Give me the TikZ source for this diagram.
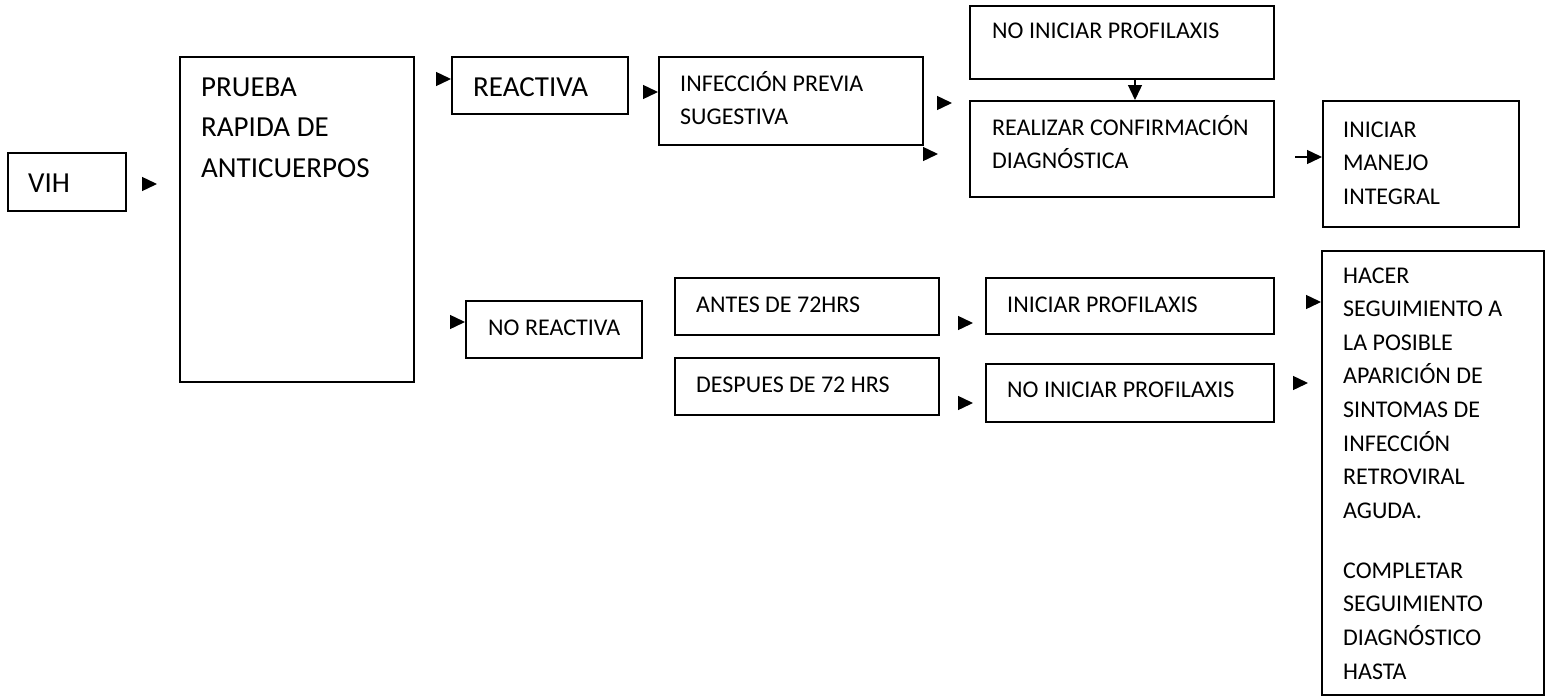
\documentclass[tikz,border=0pt]{standalone}
\usepackage{fontspec}
\setmainfont{Carlito}
\usetikzlibrary{arrows.meta,calc}
% multi-line text whose baseline is that of its first line
\newcommand\lines[1]{\begin{tabular}[t]{@{}l@{}}#1\end{tabular}}
\tikzset{
  box/.style={draw, line width=1.4pt, rectangle, inner sep=0pt, outer sep=0pt, anchor=north west},
  big/.style={font=\fontsize{29}{40.5}\selectfont, anchor=base west, inner sep=0pt},
  small/.style={font=\fontsize{24}{33.6}\selectfont, anchor=base west, inner sep=0pt},
  tipar/.style={line width=1.4pt, -{Triangle[length=15pt,width=14pt]}},
}
\begin{document}
\begin{tikzpicture}[x=1pt,y=-1pt]
\useasboundingbox[fill=white] (0,0) rectangle (1551,696);

% boxes
\node[box, minimum width=118pt, minimum height=58pt]  (vih)     at (8,153)    {};
\node[box, minimum width=234pt, minimum height=325pt] (pru)     at (180,57)   {};
\node[box, minimum width=176pt, minimum height=57pt]  (reac)    at (452,57)   {};
\node[box, minimum width=264pt, minimum height=88pt]  (inf)     at (659,57)   {};
\node[box, minimum width=304pt, minimum height=73pt]  (noini)   at (970,6)    {};
\node[box, minimum width=304pt, minimum height=96pt]  (real)    at (970,101)  {};
\node[box, minimum width=196pt, minimum height=126pt] (ini)     at (1323,101) {};
\node[box, minimum width=176pt, minimum height=57pt]  (norea)   at (466,301)  {};
\node[box, minimum width=264pt, minimum height=57pt]  (antes)   at (675,278)  {};
\node[box, minimum width=264pt, minimum height=57pt]  (desp)    at (675,358)  {};
\node[box, minimum width=288pt, minimum height=56pt]  (iniprof) at (986,278)  {};
\node[box, minimum width=288pt, minimum height=58pt]  (noprof)  at (986,364)  {};
\node[box, minimum width=222pt, minimum height=444pt] (hacer)   at (1322,251) {};

% texts
\node[big] (t-vih)  at (28,192)  {VIH};
\node[big] (t-pru)  at (201,96)  {\lines{PRUEBA\\RAPIDA DE\\ANTICUERPOS}};
\node[big] (t-reac) at (473,96)  {REACTIVA};
\node[small] (t-inf)   at (680,91)   {\lines{INFECCIÓN PREVIA\\SUGESTIVA}};
\node[small] (t-noini) at (992,38)   {NO INICIAR PROFILAXIS};
\node[small] (t-real)  at (992,135)  {\lines{REALIZAR CONFIRMACIÓN\\DIAGNÓSTICA}};
\node[small] (t-ini)   at (1343,137) {\lines{INICIAR\\MANEJO\\INTEGRAL}};
\node[small] (t-norea) at (488,335)  {NO REACTIVA};
\node[small] (t-antes) at (696,312)  {ANTES DE 72HRS};
\node[small] (t-desp)  at (696,392)  {DESPUES DE 72 HRS};
\node[small] (t-iprof) at (1007,312) {INICIAR PROFILAXIS};
\node[small] (t-nprof) at (1007,397) {NO INICIAR PROFILAXIS};
\node[small] (t-hacer) at (1343,283) {\lines{HACER\\SEGUIMIENTO A\\LA POSIBLE\\APARICIÓN DE\\SINTOMAS DE\\INFECCIÓN\\RETROVIRAL\\AGUDA.\\[26.4pt]COMPLETAR\\SEGUIMIENTO\\DIAGNÓSTICO\\HASTA}};

% arrowheads
\draw[tipar] ($(vih.east)+(16,2)$) -- ++(15,0);
\draw[tipar] ($(reac.west)+(-16,-6.5)$) -- ++(15,0);
\draw[tipar] ($(inf.west)+(-16,-9)$) -- ++(15,0);
\draw[tipar] ($(inf.east)+(14,2)$) -- ++(15,0);
\draw[tipar] ($(inf.south east)+(0,9)$) -- ++(15,0);
\draw[tipar] ($(noini.south)+(13,0)$) -- ($(real.north)+(13,-1)$);
\draw[tipar] ($(ini.west)+(-28,-7)$) -- ($(ini.west)+(-1,-7)$);
\draw[tipar] ($(norea.west)+(-16,-7.5)$) -- ++(15,0);
\draw[tipar] ($(antes.east)+(19,16.5)$) -- ++(15,0);
\draw[tipar] ($(desp.east)+(19,16.5)$) -- ++(15,0);
\draw[tipar] ($(iniprof.east)+(32,-4)$) -- ++(15,0);
\draw[tipar] ($(noprof.east)+(19,-10)$) -- ++(15,0);
\end{tikzpicture}
\end{document}
